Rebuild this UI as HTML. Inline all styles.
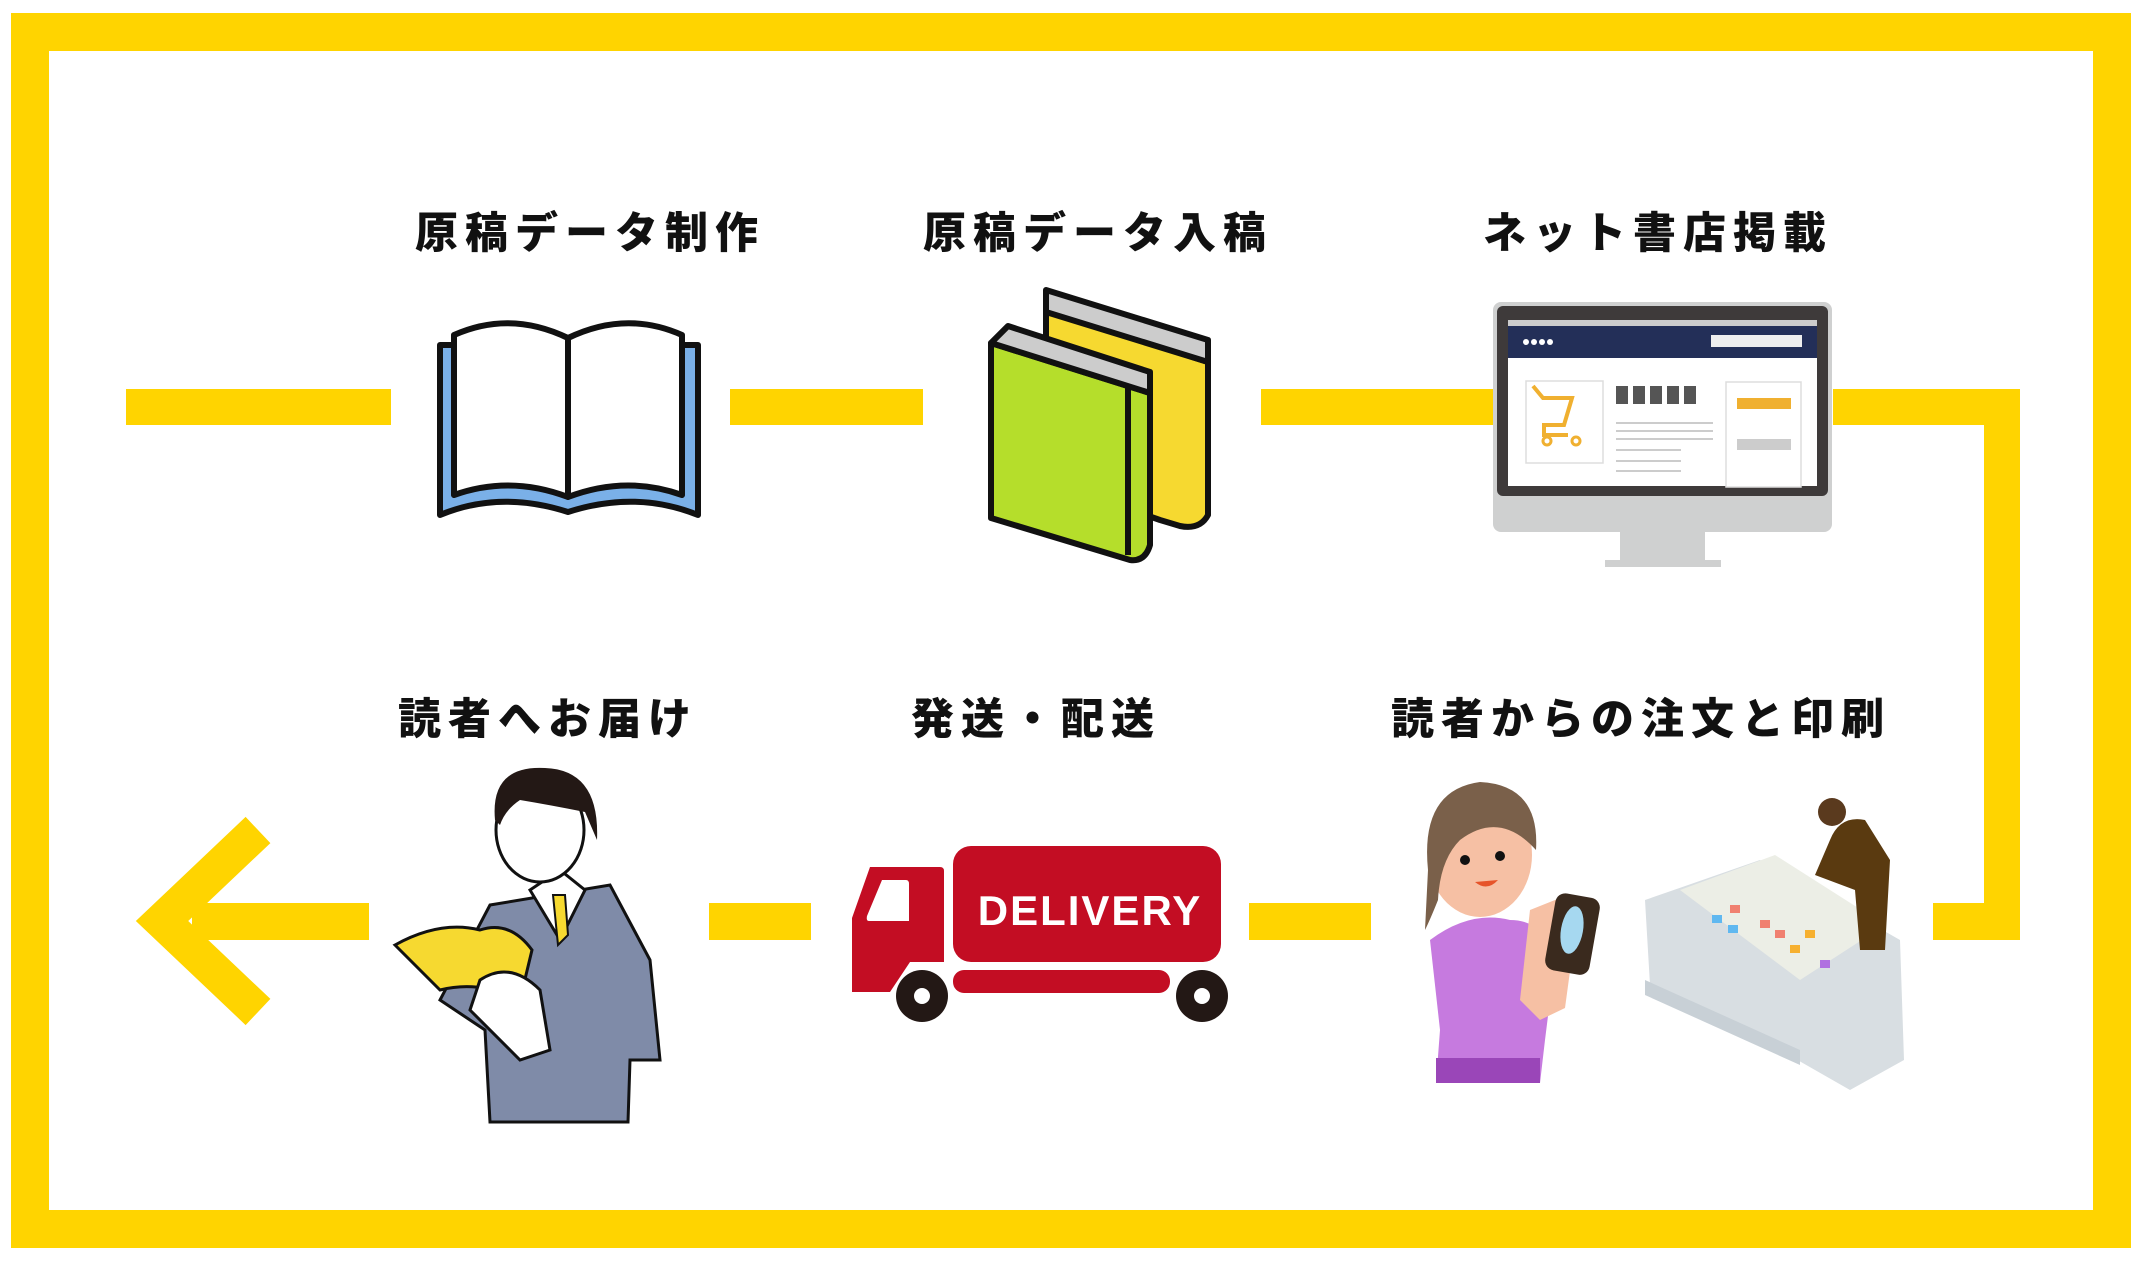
<!DOCTYPE html>
<html><head><meta charset="utf-8"><style>
html,body{margin:0;padding:0;background:#fff;}
svg{display:block;}
text{font-family:"Liberation Sans","Noto Sans CJK JP",sans-serif;font-weight:900;}
</style></head><body>
<svg width="2141" height="1261" viewBox="0 0 2141 1261" xmlns="http://www.w3.org/2000/svg">
<rect x="0" y="0" width="2141" height="1261" fill="#fff"/>
<rect x="30" y="32" width="2082" height="1197" fill="none" stroke="#FFD400" stroke-width="38"/>
<!-- connectors -->
<g fill="#FFD400">
<rect x="126" y="389" width="265" height="36"/>
<rect x="730" y="389" width="193" height="36"/>
<rect x="1261" y="389" width="233" height="36"/>
<rect x="1833" y="389" width="187" height="36"/>
<rect x="1984" y="389" width="36" height="551"/>
<rect x="1933" y="903" width="87" height="37"/>
<rect x="1249" y="903" width="122" height="37"/>
<rect x="709" y="903" width="102" height="37"/>
<rect x="192" y="903" width="177" height="37"/>
</g>
<polyline points="258,830 162,921 258,1012" fill="none" stroke="#FFD400" stroke-width="36"/>
<!-- titles -->
<g font-size="43" text-anchor="middle" fill="#111" letter-spacing="7">
<text x="590" y="248">原稿データ制作</text>
<text x="1098" y="248">原稿データ入稿</text>
<text x="1658" y="248">ネット書店掲載</text>
<text x="548" y="734">読者へお届け</text>
<text x="1036" y="734">発送・配送</text>
<text x="1641" y="734">読者からの注文と印刷</text>
</g>
<!-- open book -->
<g stroke="#111" stroke-width="6" stroke-linejoin="round">
<path d="M440,345 L440,515 Q500,490 568,512 Q636,490 698,515 L698,345 Z" fill="#7AB0E8"/>
<path d="M454,335 Q510,310 568,338 L568,497 Q510,475 454,495 Z" fill="#fff"/>
<path d="M682,335 Q626,310 568,338 L568,497 Q626,475 682,495 Z" fill="#fff"/>
</g>
<!-- books -->
<g stroke="#111" stroke-width="6" stroke-linejoin="round">
<path d="M1046,310 L1208,362 L1208,515 Q1200,530 1180,526 L1160,520 L1046,480 Z" fill="#F6D930"/>
<path d="M1046,290 L1208,340 L1208,362 L1046,312 Z" fill="#ccc"/>
<path d="M991,343 L1150,393 L1150,545 Q1145,562 1130,560 L991,518 Z" fill="#B5DE2B"/>
<path d="M1008,326 L1150,372 L1150,393 L991,343 Z" fill="#ccc"/>
<path d="M1128,386 L1128,555" fill="none"/>
</g>
<!-- monitor -->
<rect x="1493" y="302" width="339" height="230" rx="8" fill="#CFD0D0"/>
<rect x="1497" y="306" width="331" height="190" rx="6" fill="#3E3A3A"/>
<rect x="1508" y="320" width="309" height="166" fill="#fff"/>
<rect x="1508" y="320" width="309" height="6" fill="#ccc"/>
<rect x="1508" y="326" width="309" height="32" fill="#232F58"/>
<rect x="1711" y="335" width="91" height="12" fill="#eee"/>
<g fill="#fff"><circle cx="1526" cy="342" r="3"/><circle cx="1534" cy="342" r="3"/><circle cx="1542" cy="342" r="3"/><circle cx="1550" cy="342" r="3"/></g>
<rect x="1526" y="381" width="77" height="82" fill="#fff" stroke="#ddd" stroke-width="1.5"/>
<path d="M1533,386 L1543,398 L1572,398 L1564,425 L1544,425 L1544,435 L1568,435" fill="none" stroke="#F0B030" stroke-width="4"/>
<circle cx="1547" cy="441" r="4" fill="none" stroke="#F0B030" stroke-width="3"/><circle cx="1576" cy="441" r="4" fill="none" stroke="#F0B030" stroke-width="3"/>
<g fill="#555"><rect x="1616" y="386" width="12" height="18"/><rect x="1633" y="386" width="12" height="18"/><rect x="1650" y="386" width="12" height="18"/><rect x="1667" y="386" width="12" height="18"/><rect x="1684" y="386" width="12" height="18"/></g>
<g fill="#ccc"><rect x="1616" y="422" width="97" height="2"/><rect x="1616" y="430" width="97" height="2"/><rect x="1616" y="438" width="97" height="2"/><rect x="1616" y="449" width="65" height="2"/><rect x="1616" y="460" width="65" height="2"/><rect x="1616" y="470" width="65" height="2"/></g>
<rect x="1726" y="382" width="75" height="105" fill="#fff" stroke="#ddd" stroke-width="1.5"/>
<rect x="1737" y="398" width="54" height="11" fill="#F0B030"/>
<rect x="1737" y="439" width="54" height="11" fill="#ccc"/>
<rect x="1620" y="532" width="85" height="28" fill="#CFD0D0"/>
<rect x="1605" y="560" width="116" height="7" fill="#CFD0D0"/>
<!-- businessman -->
<path d="M490,905 L610,885 L650,960 L660,1060 L630,1060 L628,1122 L490,1122 L485,1030 L440,1000 Z" fill="#7F8BA8" stroke="#111" stroke-width="3"/>
<path d="M530,890 L560,870 L585,890 L560,940 Z" fill="#fff" stroke="#111" stroke-width="3"/>
<path d="M553,895 L565,895 L568,935 L558,945 Z" fill="#F6D930" stroke="#111" stroke-width="2"/>
<ellipse cx="540" cy="830" rx="44" ry="52" fill="#fff" stroke="#111" stroke-width="3"/>
<path d="M495,820 Q490,765 545,768 Q600,770 597,840 L585,812 Q550,805 520,800 Q505,810 500,825 Z" fill="#231815"/>
<path d="M395,945 Q440,920 480,930 Q510,920 532,950 L520,1000 Q480,980 440,990 Z" fill="#F6D930" stroke="#111" stroke-width="3"/>
<path d="M480,980 Q510,960 540,990 L550,1050 L520,1060 L470,1010 Z" fill="#fff" stroke="#111" stroke-width="3"/>
<!-- truck -->
<g fill="#C30D23">
<rect x="953" y="846" width="268" height="116" rx="18"/>
<path d="M870,867 L940,867 Q944,867 944,871 L944,962 L910,962 L890,992 L852,992 L852,918 Z"/>
<rect x="953" y="970" width="217" height="23" rx="11"/>
</g>
<path d="M882,880 L906,880 Q909,880 909,884 L909,921 L869,921 Q866,921 867,916 Z" fill="#fff"/>
<text x="1090" y="925" font-size="42" text-anchor="middle" fill="#fff" font-family="Liberation Sans,sans-serif" font-weight="700" letter-spacing="2">DELIVERY</text>
<g fill="#231815"><circle cx="922" cy="996" r="26"/><circle cx="1202" cy="996" r="26"/></g>
<g fill="#fff"><circle cx="922" cy="996" r="8"/><circle cx="1202" cy="996" r="8"/></g>
<!-- woman -->
<path d="M1430,940 Q1470,910 1510,920 Q1545,920 1555,960 L1545,1040 L1540,1083 L1436,1083 L1440,1030 Z" fill="#C67ADF"/>
<rect x="1436" y="1058" width="104" height="25" fill="#9A46B8"/>
<ellipse cx="1480" cy="855" rx="52" ry="62" fill="#F6C0A4"/>
<path d="M1428,870 Q1420,790 1480,782 Q1540,785 1536,850 Q1500,810 1460,840 Q1440,860 1438,900 Q1430,920 1425,930 Z" fill="#7A604A"/>
<circle cx="1465" cy="860" r="5" fill="#111"/><circle cx="1500" cy="856" r="5" fill="#111"/>
<path d="M1475,882 Q1487,892 1498,880 Z" fill="#E6542A"/>
<path d="M1520,1000 L1530,910 L1560,898 L1578,912 L1565,1008 L1540,1020 Z" fill="#F6C0A4"/>
<rect x="1550" y="895" width="45" height="78" rx="10" fill="#3A2A1E" transform="rotate(10 1572 934)"/>
<ellipse cx="1572" cy="930" rx="11" ry="24" fill="#A6D8F0" transform="rotate(10 1572 930)"/>
<!-- printer -->
<path d="M1645,900 L1760,860 L1900,940 L1904,1060 L1850,1090 L1780,1050 L1650,985 Z" fill="#D8DEE2"/>
<path d="M1680,890 L1775,855 L1885,925 L1800,980 Z" fill="#ECEEE6"/>
<g fill="#F08070"><rect x="1730" y="905" width="10" height="8"/><rect x="1760" y="920" width="10" height="8"/><rect x="1775" y="930" width="10" height="8"/></g>
<g fill="#60B8F0"><rect x="1712" y="915" width="10" height="8"/><rect x="1728" y="925" width="10" height="8"/></g>
<g fill="#F6B030"><rect x="1790" y="945" width="10" height="8"/><rect x="1805" y="930" width="10" height="8"/></g>
<g fill="#B070E0"><rect x="1820" y="960" width="10" height="8"/></g>
<path d="M1645,980 L1800,1050 L1800,1065 L1645,995 Z" fill="#C8D0D6"/>
<path d="M1830,840 Q1840,815 1865,820 L1890,860 L1885,950 L1860,950 L1855,890 L1815,875 Z" fill="#5A3A10"/>
<circle cx="1832" cy="812" r="14" fill="#5A3A1E"/>
</svg>
</body></html>
